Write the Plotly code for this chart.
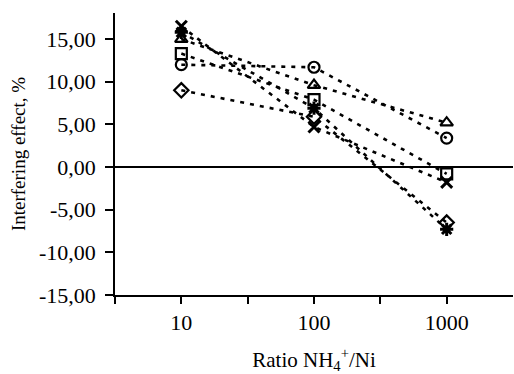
import plotly.graph_objects as go

ratios = [10, 100, 1000]
series_names = ["diamond", "square", "triangle", "x", "star", "circle"]
diamond_vals = [9.0, 5.9, -6.5]
square_vals = [13.3, 7.9, -0.8]
triangle_vals = [15.0, 9.6, 5.2]
x_vals = [16.5, 4.7, -1.8]
star_vals = [15.8, 6.9, -7.3]
circle_vals = [12.0, 11.7, 3.4]

y_ticks = [-15, -10, -5, 0, 5, 10, 15]
y_ticktext = [("%.2f" % v).replace(".", ",") for v in y_ticks]
x_tickvals = [10, 100, 1000]
x_ticktext = ["10", "100", "1000"]
x_minor_vals = [10**0.5, 10**1.5, 10**2.5]

symbols = {
    "diamond": "diamond-open",
    "square": "square-open",
    "triangle": "triangle-up-open",
    "x": "x-thin-open",
    "star": "asterisk-open",
    "circle": "circle-open",
}
values = {
    "diamond": diamond_vals,
    "square": square_vals,
    "triangle": triangle_vals,
    "x": x_vals,
    "star": star_vals,
    "circle": circle_vals,
}

fig = go.Figure()
for name in series_names:
    sym = symbols[name]
    lw = 3 if name in ("x", "star") else 2.2
    fig.add_trace(go.Scatter(
        x=ratios, y=values[name], mode="lines+markers", name=name,
        line=dict(color="black", width=2.6, dash="4px,6px"),
        marker=dict(symbol=sym, size=11, color="black",
                    line=dict(color="black", width=lw)),
        showlegend=False,
    ))

fig.add_shape(type="line", xref="paper", yref="y", x0=0, x1=1, y0=0, y1=0,
              line=dict(color="black", width=2))

font_family = "Liberation Serif"
fig.update_layout(
    width=514, height=374,
    margin=dict(l=115, r=1, t=13, b=79),
    paper_bgcolor="white", plot_bgcolor="white",
    font=dict(family=font_family, size=20, color="black"),
    xaxis=dict(
        type="log", range=[0.5, 3.5], automargin=False,
        tickvals=x_tickvals, ticktext=x_ticktext,
        ticks="outside", ticklen=7, tickwidth=1.5, tickcolor="black",
        minor=dict(tickvals=x_minor_vals, ticks="outside", ticklen=7,
                   tickwidth=1.5, tickcolor="black", showgrid=False),
        showline=True, linecolor="black", linewidth=1.5,
        showgrid=False, zeroline=False,
        tickfont=dict(family=font_family, size=22, color="black"),
        title=dict(text="Ratio NH<sub>4</sub><sup>+</sup>/Ni", standoff=22,
                   font=dict(family=font_family, size=21, color="black")),
    ),
    yaxis=dict(
        range=[-15, 18.06], automargin=False,
        tickvals=y_ticks, ticktext=y_ticktext,
        ticks="outside", ticklen=8, tickwidth=1.5, tickcolor="black",
        ticklabelstandoff=5,
        showline=True, linecolor="black", linewidth=1.5,
        showgrid=False, zeroline=False,
        tickfont=dict(family=font_family, size=22, color="black"),
        title=dict(text="Interfering effect, %", standoff=8,
                   font=dict(family=font_family, size=19, color="black")),
    ),
)

fig.write_html("out.html")
